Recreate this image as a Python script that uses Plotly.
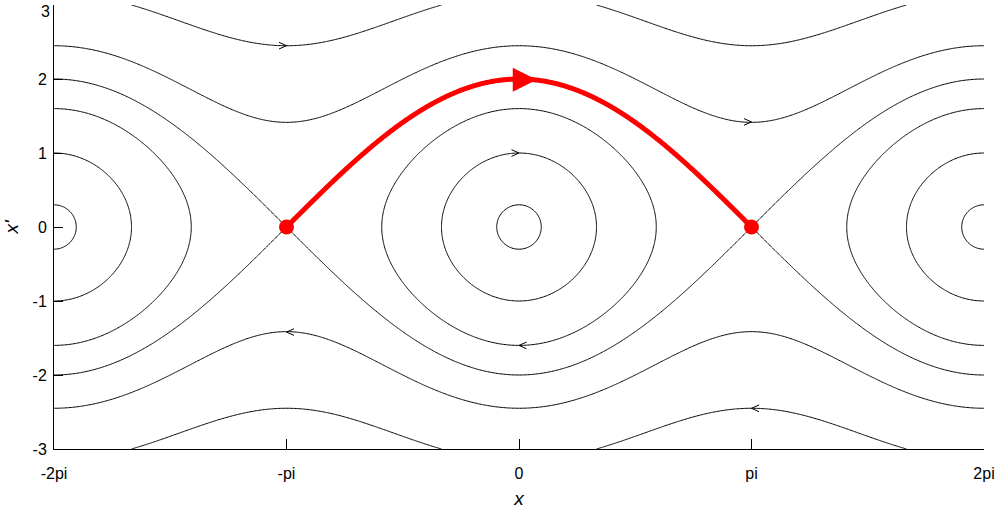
import numpy as np
import plotly.graph_objects as go

PI = np.pi

orbit_levels = [-0.955, -0.5, 0.28, 1.0, 2.0, 4.0]
heteroclinic_level = 1.0

x_tick_vals = [-2 * PI, -PI, 0, PI, 2 * PI]
x_tick_text = ["-2pi", "-pi", "0", "pi", "2pi"]
y_tick_vals = [-3, -2, -1, 0, 1, 2, 3]
y_tick_text = ["-3", "-2", "-1", "0", "1", "2", ""]
# the top label sits just below its tick so it stays inside the picture
y_top_tick = [3]
y_top_text = ["3"]

saddle_x = [-PI, PI]
saddle_y = [0, 0]

# direction arrows on the black orbits (1 = pointing right, -1 = left)
arrow_x = [-PI, PI, 0, -PI, 0, PI]
arrow_y = [2.45, 1.42, 1.0, -1.42, -1.6, -2.45]
arrow_dir = [1, 1, 1, -1, -1, -1]

red_arrow_x = 0.24
red_arrow_y = 1.99


def energy(xs, vs):
    return vs[:, None] ** 2 / 2 - np.cos(xs[None, :])


fig = go.Figure()

xs = np.linspace(-2 * PI, 2 * PI, 700)
vs = np.linspace(-3, 3, 500)
z = energy(xs, vs)

for level in orbit_levels:
    fig.add_trace(
        go.Contour(
            x=xs,
            y=vs,
            z=z,
            autocontour=False,
            contours=dict(start=level, end=level, size=1, coloring="lines"),
            line=dict(width=1),
            colorscale=[[0, "black"], [1, "black"]],
            showscale=False,
            hoverinfo="skip",
        )
    )

# red heteroclinic orbit on the upper half between the saddles
xr = np.linspace(-PI, PI, 500)
vr = np.linspace(0, 3, 400)
fig.add_trace(
    go.Contour(
        x=xr,
        y=vr,
        z=energy(xr, vr),
        autocontour=False,
        contours=dict(start=heteroclinic_level, end=heteroclinic_level, size=1, coloring="lines"),
        line=dict(width=5),
        colorscale=[[0, "red"], [1, "red"]],
        showscale=False,
        hoverinfo="skip",
    )
)

fig.add_trace(
    go.Scatter(
        x=saddle_x,
        y=saddle_y,
        yaxis="y2",
        mode="markers",
        marker=dict(color="red", size=15),
        showlegend=False,
        hoverinfo="skip",
    )
)

# open "V" arrowheads: two short wings drawn back from each arrow point
for ax_, ay_, d in zip(arrow_x, arrow_y, arrow_dir):
    for wing in (-4, 4):
        fig.add_annotation(
            x=ax_,
            y=ay_,
            xref="x",
            yref="y",
            ax=-d * 9,
            ay=wing,
            text="",
            showarrow=True,
            arrowhead=0,
            arrowwidth=1,
            arrowcolor="black",
            standoff=0,
        )

fig.add_annotation(
    x=red_arrow_x,
    y=red_arrow_y,
    xref="x",
    yref="y",
    ax=-26,
    ay=0,
    text="",
    showarrow=True,
    arrowhead=2,
    arrowsize=1.2,
    arrowwidth=4,
    arrowcolor="red",
    standoff=0,
)

fig.update_layout(
    width=997,
    height=509,
    margin=dict(l=54, r=13, t=5, b=60),
    plot_bgcolor="white",
    paper_bgcolor="white",
    showlegend=False,
    font=dict(family="Liberation Sans, Arial, sans-serif", size=16, color="black"),
    yaxis2=dict(
        overlaying="y",
        side="left",
        range=[-3, 3],
        tickvals=y_top_tick,
        ticktext=y_top_text,
        ticks="",
        showline=False,
        showgrid=False,
        zeroline=False,
        automargin=False,
        ticklabelstandoff=3,
        ticklabelshift=6,
        ticklabeloverflow="allow",
    ),
)
fig.update_xaxes(
    range=[-2 * PI, 2 * PI],
    tickvals=x_tick_vals,
    ticktext=x_tick_text,
    ticks="inside",
    ticklen=10,
    tickcolor="black",
    showline=True,
    linecolor="black",
    linewidth=1,
    showgrid=False,
    zeroline=False,
    automargin=False,
    ticklabelstandoff=10,
    ticklabeloverflow="allow",
    title=dict(text="<i>x</i>", standoff=19),
)
fig.update_layout(
    yaxis=dict(
        range=[-3, 3],
        tickvals=y_tick_vals,
        ticktext=y_tick_text,
        ticks="inside",
        ticklen=9,
        tickcolor="black",
        showline=True,
        linecolor="black",
        linewidth=1,
        showgrid=False,
        zeroline=False,
        automargin=False,
        ticklabelstandoff=3,
        ticklabeloverflow="allow",
        title=dict(text="<i>x'</i>", standoff=8),
    )
)

fig.write_html(
    "out.html",
    config={"displayModeBar": False},
    post_script="document.body.style.margin = '0px';",
)
